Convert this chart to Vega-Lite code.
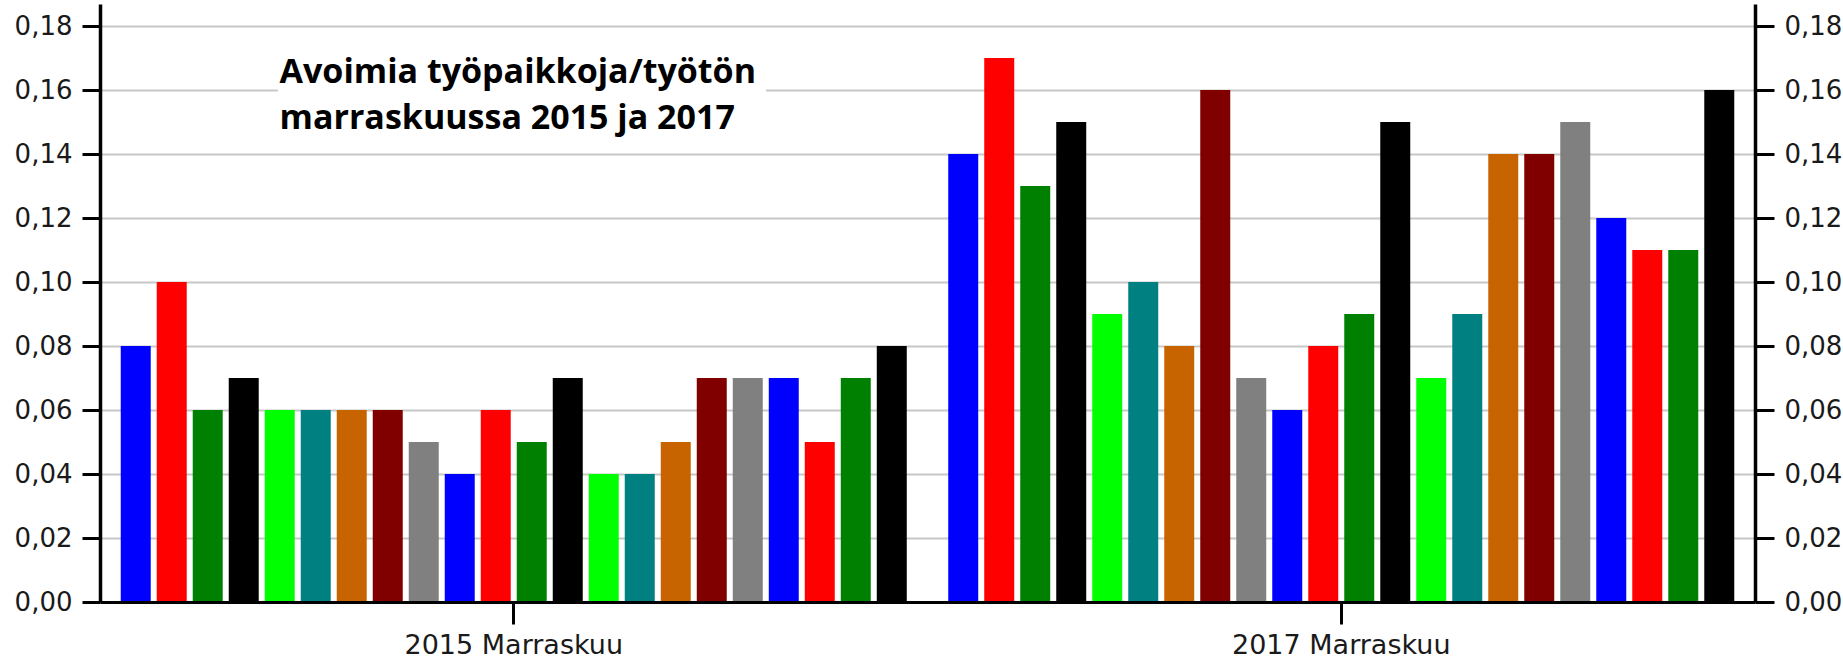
{
  "$schema": "https://vega.github.io/schema/vega-lite/v6.json",
  "width": 1655,
  "height": 598,
  "autosize": {"type": "pad"},
  "padding": {"left": 14, "top": 4, "right": 0, "bottom": 0},
  "background": "white",
  "datasets": {
    "arvot": [
      {"vuosi": "2015 Marraskuu", "alue": 1, "arvo": 0.08},
      {"vuosi": "2015 Marraskuu", "alue": 2, "arvo": 0.10},
      {"vuosi": "2015 Marraskuu", "alue": 3, "arvo": 0.06},
      {"vuosi": "2015 Marraskuu", "alue": 4, "arvo": 0.07},
      {"vuosi": "2015 Marraskuu", "alue": 5, "arvo": 0.06},
      {"vuosi": "2015 Marraskuu", "alue": 6, "arvo": 0.06},
      {"vuosi": "2015 Marraskuu", "alue": 7, "arvo": 0.06},
      {"vuosi": "2015 Marraskuu", "alue": 8, "arvo": 0.06},
      {"vuosi": "2015 Marraskuu", "alue": 9, "arvo": 0.05},
      {"vuosi": "2015 Marraskuu", "alue": 10, "arvo": 0.04},
      {"vuosi": "2015 Marraskuu", "alue": 11, "arvo": 0.06},
      {"vuosi": "2015 Marraskuu", "alue": 12, "arvo": 0.05},
      {"vuosi": "2015 Marraskuu", "alue": 13, "arvo": 0.07},
      {"vuosi": "2015 Marraskuu", "alue": 14, "arvo": 0.04},
      {"vuosi": "2015 Marraskuu", "alue": 15, "arvo": 0.04},
      {"vuosi": "2015 Marraskuu", "alue": 16, "arvo": 0.05},
      {"vuosi": "2015 Marraskuu", "alue": 17, "arvo": 0.07},
      {"vuosi": "2015 Marraskuu", "alue": 18, "arvo": 0.07},
      {"vuosi": "2015 Marraskuu", "alue": 19, "arvo": 0.07},
      {"vuosi": "2015 Marraskuu", "alue": 20, "arvo": 0.05},
      {"vuosi": "2015 Marraskuu", "alue": 21, "arvo": 0.07},
      {"vuosi": "2015 Marraskuu", "alue": 22, "arvo": 0.08},
      {"vuosi": "2017 Marraskuu", "alue": 1, "arvo": 0.14},
      {"vuosi": "2017 Marraskuu", "alue": 2, "arvo": 0.17},
      {"vuosi": "2017 Marraskuu", "alue": 3, "arvo": 0.13},
      {"vuosi": "2017 Marraskuu", "alue": 4, "arvo": 0.15},
      {"vuosi": "2017 Marraskuu", "alue": 5, "arvo": 0.09},
      {"vuosi": "2017 Marraskuu", "alue": 6, "arvo": 0.10},
      {"vuosi": "2017 Marraskuu", "alue": 7, "arvo": 0.08},
      {"vuosi": "2017 Marraskuu", "alue": 8, "arvo": 0.16},
      {"vuosi": "2017 Marraskuu", "alue": 9, "arvo": 0.07},
      {"vuosi": "2017 Marraskuu", "alue": 10, "arvo": 0.06},
      {"vuosi": "2017 Marraskuu", "alue": 11, "arvo": 0.08},
      {"vuosi": "2017 Marraskuu", "alue": 12, "arvo": 0.09},
      {"vuosi": "2017 Marraskuu", "alue": 13, "arvo": 0.15},
      {"vuosi": "2017 Marraskuu", "alue": 14, "arvo": 0.07},
      {"vuosi": "2017 Marraskuu", "alue": 15, "arvo": 0.09},
      {"vuosi": "2017 Marraskuu", "alue": 16, "arvo": 0.14},
      {"vuosi": "2017 Marraskuu", "alue": 17, "arvo": 0.14},
      {"vuosi": "2017 Marraskuu", "alue": 18, "arvo": 0.15},
      {"vuosi": "2017 Marraskuu", "alue": 19, "arvo": 0.12},
      {"vuosi": "2017 Marraskuu", "alue": 20, "arvo": 0.11},
      {"vuosi": "2017 Marraskuu", "alue": 21, "arvo": 0.11},
      {"vuosi": "2017 Marraskuu", "alue": 22, "arvo": 0.16}
    ],
    "otsikko": [
      {"teksti": ["Avoimia työpaikkoja/työtön", "marraskuussa 2015 ja 2017"]}
    ]
  },
  "layer": [
    {
      "data": {"name": "arvot"},
      "mark": {"type": "bar"},
      "encoding": {
        "x": {
          "field": "vuosi",
          "type": "nominal",
          "scale": {"paddingInner": 0, "paddingOuter": 0},
          "axis": {
            "title": null,
            "labelAngle": 0,
            "labelFont": "DejaVu Sans",
            "labelFontSize": 27,
            "labelLimit": 500,
            "labelColor": "#1a1a1a",
            "labelPadding": 8,
            "domainColor": "#000000",
            "domainWidth": 3,
            "tickColor": "#000000",
            "tickWidth": 3,
            "tickSize": 22,
            "grid": false,
            "zindex": 1
          }
        },
        "xOffset": {
          "field": "alue",
          "type": "ordinal",
          "scale": {"paddingInner": 0.167, "paddingOuter": 0.576}
        },
        "y": {
          "field": "arvo",
          "type": "quantitative",
          "scale": {"domain": [0, 0.1869], "nice": false},
          "axis": {
            "title": null,
            "orient": "left",
            "values": [0, 0.02, 0.04, 0.06, 0.08, 0.1, 0.12, 0.14, 0.16, 0.18],
            "labelExpr": "replace(format(datum.value, '.2f'), '.', ',')",
            "labelFont": "DejaVu Sans",
            "labelFontSize": 26,
            "labelColor": "#1a1a1a",
            "labelPadding": 10,
            "domainColor": "#000000",
            "domainWidth": 3.5,
            "tickColor": "#000000",
            "tickWidth": 3,
            "tickSize": 18,
            "grid": true,
            "gridColor": "#c8c8c8",
            "gridWidth": 2
          }
        },
        "color": {
          "field": "alue",
          "type": "ordinal",
          "legend": null,
          "scale": {
            "domain": [1, 2, 3, 4, 5, 6, 7, 8, 9, 10, 11, 12, 13, 14, 15, 16, 17, 18, 19, 20, 21, 22],
            "range": ["#0000FF", "#FF0000", "#008000", "#000000", "#00FF00", "#008080", "#C86400", "#800000", "#808080",
                      "#0000FF", "#FF0000", "#008000", "#000000", "#00FF00", "#008080", "#C86400", "#800000", "#808080",
                      "#0000FF", "#FF0000", "#008000", "#000000"]
          }
        }
      }
    },
    {
      "data": {"name": "arvot"},
      "mark": {"type": "bar", "opacity": 0},
      "encoding": {
        "x": {"field": "vuosi", "type": "nominal"},
        "xOffset": {"field": "alue", "type": "ordinal"},
        "y": {
          "field": "arvo",
          "type": "quantitative",
          "scale": {"domain": [0, 0.1869], "nice": false},
          "axis": {
            "title": null,
            "orient": "right",
            "values": [0, 0.02, 0.04, 0.06, 0.08, 0.1, 0.12, 0.14, 0.16, 0.18],
            "labelExpr": "replace(format(datum.value, '.2f'), '.', ',')",
            "labelFont": "DejaVu Sans",
            "labelFontSize": 26,
            "labelColor": "#1a1a1a",
            "labelPadding": 10,
            "domainColor": "#000000",
            "domainWidth": 3.5,
            "tickColor": "#000000",
            "tickWidth": 3,
            "tickSize": 19,
            "grid": false
          }
        }
      }
    },
    {
      "data": {"name": "otsikko"},
      "mark": {"type": "rect", "color": "#ffffff"},
      "encoding": {
        "x": {"datum": "2015 Marraskuu", "type": "nominal", "bandPosition": 0.215},
        "x2": {"datum": "2015 Marraskuu", "bandPosition": 0.805},
        "y": {"datum": 0.1665, "type": "quantitative", "scale": {"domain": [0, 0.1869], "nice": false}, "axis": null},
        "y2": {"datum": 0.152}
      }
    },
    {
      "data": {"name": "otsikko"},
      "mark": {
        "type": "text",
        "align": "left",
        "baseline": "alphabetic",
        "font": "Open Sans",
        "fontWeight": "bold",
        "fontSize": 34,
        "lineHeight": 46,
        "color": "#000000"
      },
      "encoding": {
        "text": {"field": "teksti"},
        "x": {"datum": "2015 Marraskuu", "type": "nominal", "bandPosition": 0.217},
        "y": {"datum": 0.1622, "type": "quantitative", "scale": {"domain": [0, 0.1869], "nice": false}, "axis": null}
      }
    }
  ],
  "resolve": {"scale": {"y": "independent"}},
  "config": {"view": {"stroke": null}}
}
